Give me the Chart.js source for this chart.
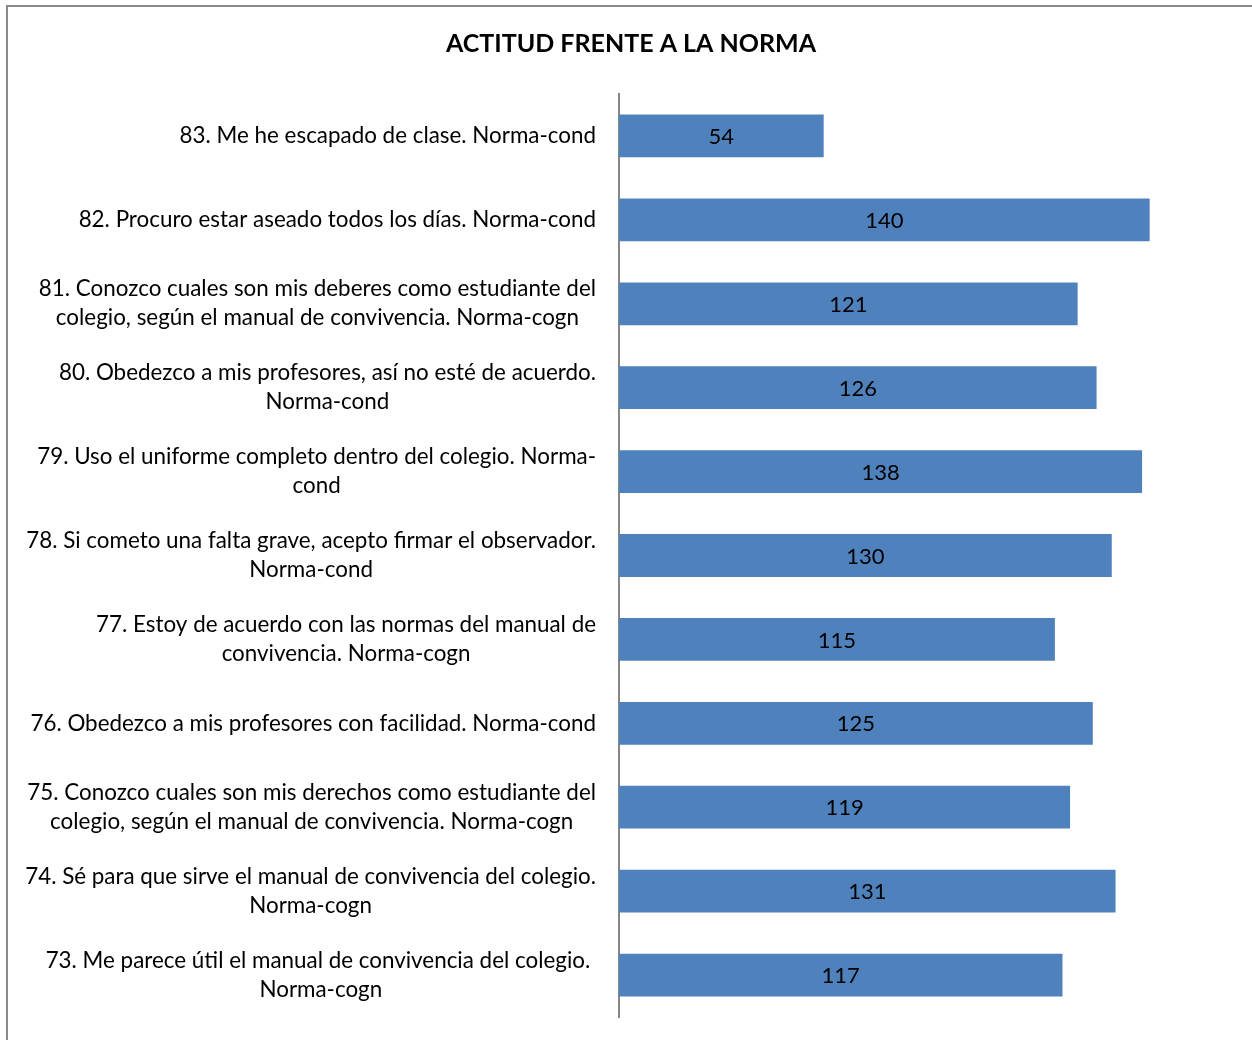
<!DOCTYPE html>
<html>
  <head>
    <script src="https://cdn.jsdelivr.net/npm/chart.js@4/dist/chart.umd.min.js"></script>
    <style>
      body { margin: 0; overflow: hidden; background: #fff; }
      #frame { position: absolute; left: 6px; top: 5px; width: 1400px; height: 1200px;
               border-top: 2px solid #8a8a8a; border-left: 2px solid #8a8a8a; }
      #canvas { position: absolute; left: 0; top: 0; }
    </style>
  </head>

  <body>
    <div id="frame"></div>
    <canvas id="canvas" width="1252" height="1040"></canvas>
    <script>
      const titleText = 'ACTITUD FRENTE A LA NORMA';
      const items = [
        ['83. Me he escapado de clase. Norma-cond'],
        ['82. Procuro estar aseado todos los días. Norma-cond'],
        ['81. Conozco cuales son mis deberes como estudiante del', 'colegio, según el manual de convivencia. Norma-cogn'],
        ['80. Obedezco a mis profesores, así no esté de acuerdo.', 'Norma-cond'],
        ['79. Uso el uniforme completo dentro del colegio. Norma-', 'cond'],
        ['78. Si cometo una falta grave, acepto firmar el observador.', 'Norma-cond'],
        ['77. Estoy de acuerdo con las normas del manual de', 'convivencia. Norma-cogn'],
        ['76. Obedezco a mis profesores con facilidad. Norma-cond'],
        ['75. Conozco cuales son mis derechos como estudiante del', 'colegio, según el manual de convivencia. Norma-cogn'],
        ['74. Sé para que sirve el manual de convivencia del colegio.', 'Norma-cogn'],
        ['73. Me parece útil el manual de convivencia del colegio. ', 'Norma-cogn'],
      ];
      const counts = [54, 140, 121, 126, 138, 130, 115, 125, 119, 131, 117];
      const xMax = 167;

      const FONT = 'Lato, Calibri, sans-serif';

      // category labels: block right-aligned, lines centred inside the block
      const labelPlugin = {
        id: 'blockLabels',
        afterDraw(chart) {
          const ctx = chart.ctx;
          const y = chart.scales.y;
          const right = chart.chartArea.left - 23;
          const lineH = 29;
          ctx.save();
          ctx.font = '22.4px ' + FONT;
          ctx.fillStyle = '#000';
          ctx.textAlign = 'center';
          ctx.textBaseline = 'middle';
          items.forEach((lines, i) => {
            const w = Math.max(...lines.map((l) => ctx.measureText(l).width));
            const cx = right - w / 2;
            const cy = y.getPixelForTick(i);
            lines.forEach((l, j) => {
              ctx.fillText(l, cx, cy + (j - (lines.length - 1) / 2) * lineH);
            });
          });
          ctx.restore();
        },
      };

      // value labels in the middle of each bar
      const valuePlugin = {
        id: 'values',
        afterDatasetsDraw(chart) {
          const ctx = chart.ctx;
          const meta = chart.getDatasetMeta(0);
          ctx.save();
          ctx.font = '22px ' + FONT;
          ctx.fillStyle = '#000';
          ctx.textAlign = 'center';
          ctx.textBaseline = 'middle';
          meta.data.forEach((bar, i) => {
            ctx.fillText(String(counts[i]), (bar.x + bar.base) / 2, bar.y + 1);
          });
          ctx.restore();
        },
      };

      new Chart(document.getElementById('canvas').getContext('2d'), {
        type: 'bar',
        data: {
          labels: items.map((l) => l.join(' ')),
          datasets: [
            {
              data: counts,
              backgroundColor: '#4F81BD',
              borderWidth: 0,
              barPercentage: 0.51,
              categoryPercentage: 1,
            },
          ],
        },
        options: {
          indexAxis: 'y',
          responsive: false,
          animation: false,
          layout: {
            padding: { left: 10, right: 0, top: 29, bottom: 23 },
          },
          plugins: {
            legend: { display: false },
            tooltip: { enabled: false },
            title: {
              display: true,
              text: titleText,
              color: '#000',
              font: { family: FONT, size: 25, weight: 'bold' },
              padding: { top: 0, bottom: 35 },
            },
          },
          scales: {
            x: { display: false, min: 0, max: xMax },
            y: {
              grid: { display: false, drawTicks: false },
              border: { color: '#868686', width: 2 },
              ticks: { display: false },
              afterFit: (scale) => {
                scale.width = 609;
              },
            },
          },
        },
        plugins: [labelPlugin, valuePlugin],
      });
    </script>
  </body>
</html>
